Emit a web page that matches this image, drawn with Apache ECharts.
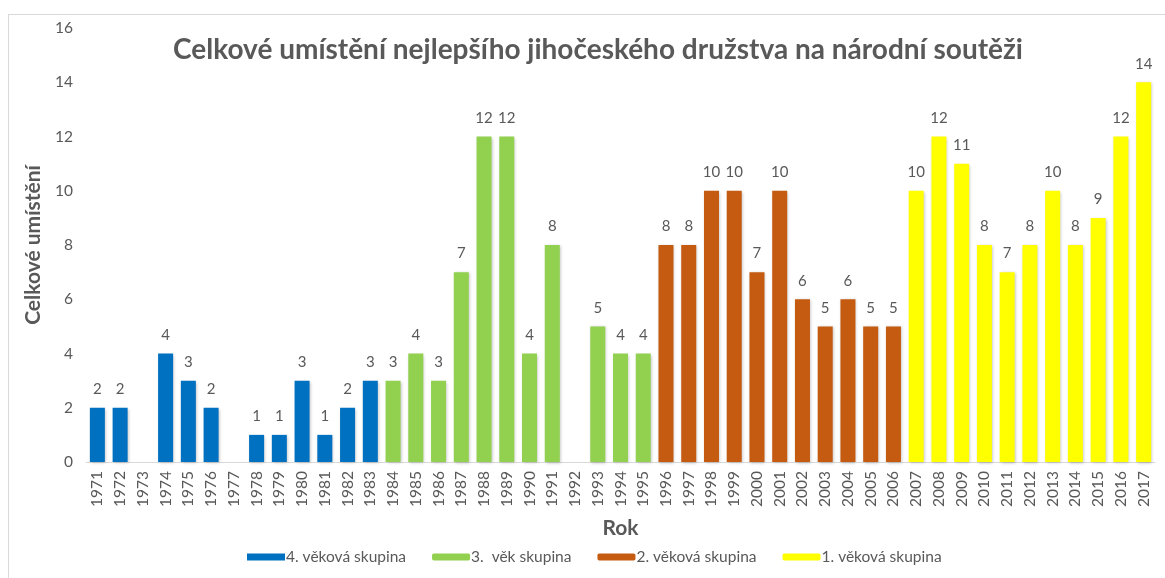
<!DOCTYPE html>
<html>
<head>
<meta charset="utf-8">
<script src="https://cdn.jsdelivr.net/npm/echarts@6/dist/echarts.min.js"></script>
<style>
  html, body { margin: 0; padding: 0; background: #fff; }
  #chart { width: 1165px; height: 578px; }
  #frame { position: absolute; left: 8px; top: 14px; width: 1157px; height: 570px; border: 1px solid #d9d9d9; pointer-events: none; }
</style>
</head>
<body>
<div id="frame"></div>
<div id="chart"></div>
<script>
const years = ['1971', '1972', '1973', '1974', '1975', '1976', '1977', '1978', '1979', '1980', '1981', '1982', '1983',
  '1984', '1985', '1986', '1987', '1988', '1989', '1990', '1991', '1992', '1993', '1994', '1995',
  '1996', '1997', '1998', '1999', '2000', '2001', '2002', '2003', '2004', '2005', '2006',
  '2007', '2008', '2009', '2010', '2011', '2012', '2013', '2014', '2015', '2016', '2017']
const group4 = [2, 2, null, 4, 3, 2, null, 1, 1, 3, 1, 2, 3]
const group3 = [3, 4, 3, 7, 12, 12, 4, 8, null, 5, 4, 4]
const group2 = [8, 8, 10, 10, 7, 10, 6, 5, 6, 5, 5]
const group1 = [10, 12, 11, 8, 7, 8, 10, 8, 9, 12, 14]
const seriesNames = ['4. věková skupina', '3.  věk skupina', '2. věková skupina', '1. věková skupina']
const seriesColors = ['#0070c0', '#92d050', '#c55a11', '#ffff00']

// každá skupina obsadí svůj úsek let, jinde prázdno
const groups = [group4, group3, group2, group1]
let offset = 0
const seriesData = groups.map(g => {
  const arr = years.map(() => null)
  g.forEach((v, i) => { arr[offset + i] = v })
  offset += g.length
  return arr
})

const myChart = echarts.init(document.getElementById('chart'))
const option = {
  animation: false,
  title: {
    text: 'Celkové umístění nejlepšího jihočeského družstva na národní soutěži',
    left: 593,
    textAlign: 'center',
    top: 31,
    textStyle: {
      fontFamily: 'Lato',
      fontSize: 28,
      fontWeight: 'bold',
      color: '#595959'
    }
  },
  legend: {
    bottom: 8,
    left: 242,
    itemWidth: 38,
    itemHeight: 7,
    itemGap: 26,
    textStyle: { fontFamily: 'Lato', fontSize: 15.5, color: '#595959', padding: [0, 0, 0, -4] },
    data: seriesNames.map((n, i) => ({ name: n, icon: i === 0 ? 'rect' : 'roundRect' }))
  },
  grid: {
    left: 86,
    right: 10,
    top: 28,
    bottom: 116
  },
  xAxis: {
    type: 'category',
    data: years,
    name: 'Rok',
    nameLocation: 'middle',
    nameGap: 56,
    nameTextStyle: { fontFamily: 'Lato', fontSize: 21, fontWeight: 'bold', color: '#595959' },
    axisLine: { lineStyle: { color: '#d9d9d9', width: 1 } },
    axisTick: { show: false },
    axisLabel: {
      rotate: 90,
      interval: 0,
      fontFamily: 'Lato',
      fontSize: 15.5,
      color: '#595959',
      margin: 9
    }
  },
  yAxis: {
    type: 'value',
    min: 0,
    max: 16,
    interval: 2,
    name: 'Celkové umístění',
    nameLocation: 'middle',
    nameGap: 38,
    nameTextStyle: { fontFamily: 'Lato', fontSize: 21, fontWeight: 'bold', color: '#595959' },
    axisLine: { show: false },
    axisTick: { show: false },
    splitLine: { show: false },
    axisLabel: { fontFamily: 'Lato', fontSize: 15.5, color: '#595959', margin: 13 }
  },
  series: seriesNames.map((n, i) => ({
    name: n,
    type: 'bar',
    stack: 'all',
    barWidth: '66%',
    data: seriesData[i],
    itemStyle: {
      color: seriesColors[i],
      shadowColor: 'rgba(0,0,0,0.25)',
      shadowBlur: 3,
      shadowOffsetX: 1,
      shadowOffsetY: 1
    },
    label: {
      show: true,
      position: 'top',
      distance: 11,
      fontFamily: 'Lato',
      fontSize: 15,
      color: '#595959'
    }
  }))
}
myChart.setOption(option)
</script>
</body>
</html>
